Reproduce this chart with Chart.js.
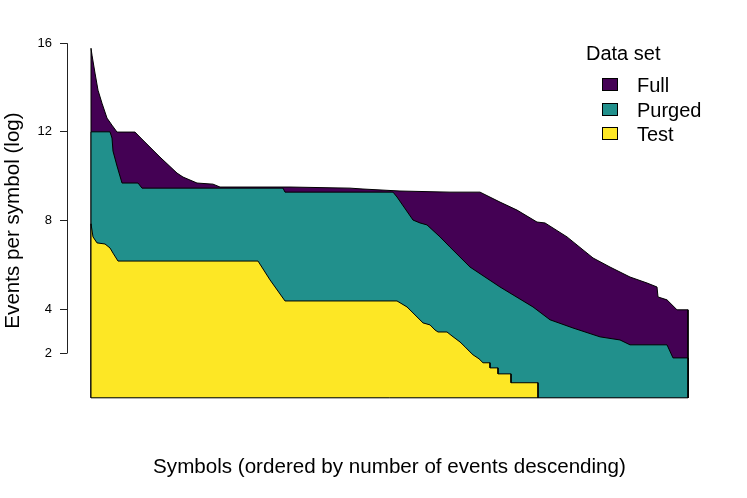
<!DOCTYPE html>
<html>
<head>
<meta charset="utf-8">
<script src="https://cdn.jsdelivr.net/npm/chart.js@4/dist/chart.umd.min.js"></script>
<style>
html,body{margin:0;padding:0;background:#fff;}
#wrap{width:747px;height:498px;}
</style>
</head>
<body>
<div id="wrap"><canvas id="c" width="747" height="498"></canvas></div>
<script>
// Symbol rank (x) and events per symbol (y)
const fullX = [0, 0, 1, 4, 7, 11, 16, 21, 26, 44, 49, 69, 86, 92, 106, 122, 129, 199, 259, 272, 309, 359, 389, 409, 426, 446, 454, 476, 502, 519, 539, 556, 566, 567, 576, 586, 597, 597];
const fullY = [0, 15.77, 15.46, 14.65, 13.88, 13.29, 12.62, 12.30, 11.99, 11.99, 11.76, 10.86, 10.14, 9.96, 9.69, 9.64, 9.51, 9.51, 9.46, 9.42, 9.33, 9.28, 9.28, 8.83, 8.47, 7.93, 7.89, 7.26, 6.31, 5.90, 5.45, 5.18, 5.00, 4.55, 4.42, 3.97, 3.97, 0];

const purgedX = [0, 0, 19, 21, 22, 26, 31, 47, 51, 192, 194, 302, 306, 322, 329, 336, 349, 359, 379, 409, 442, 459, 482, 509, 529, 539, 576, 582, 597, 597];
const purgedY = [0, 12.0, 12.0, 11.72, 11.13, 10.46, 9.69, 9.69, 9.46, 9.46, 9.28, 9.28, 9.06, 8.02, 7.89, 7.80, 7.26, 6.80, 5.90, 5.00, 4.10, 3.52, 3.15, 2.75, 2.61, 2.39, 2.39, 1.80, 1.80, 0];

const testX = [0, 0, 2, 6, 14, 19, 22, 27, 167, 179, 194, 306, 316, 332, 339, 344, 347, 356, 361, 369, 374, 379, 382, 388, 392, 399, 399, 407, 407, 420, 420, 447, 447];
const testY = [0, 7.85, 7.26, 6.99, 6.94, 6.76, 6.53, 6.17, 6.17, 5.32, 4.37, 4.37, 4.10, 3.38, 3.29, 3.06, 2.97, 2.97, 2.79, 2.52, 2.30, 2.07, 1.94, 1.76, 1.58, 1.58, 1.35, 1.35, 1.08, 1.08, 0.68, 0.68, 0];

const seriesNames = ['Full', 'Purged', 'Test'];
const seriesColors = ['#440154', '#21908C', '#FDE725'];
const yTicks = [2, 4, 8, 12, 16];
const xRange = [0, 597];

const FONT = '"Liberation Sans", Arial, Helvetica, sans-serif';
const pts = (xs, ys) => xs.map((x, i) => ({x: x, y: ys[i]}));

const extras = {
  id: 'extras',
  afterDatasetsDraw(chart) {
    const ctx = chart.ctx, xs = chart.scales.x, ys = chart.scales.y;
    ctx.save();
    ctx.strokeStyle = '#000';
    ctx.lineWidth = 1;
    // bottom edge of the filled polygons
    ctx.beginPath();
    ctx.moveTo(xs.getPixelForValue(xRange[0]), ys.getPixelForValue(0));
    ctx.lineTo(xs.getPixelForValue(xRange[1]), ys.getPixelForValue(0));
    ctx.stroke();
    // R style y axis line from first to last tick
    const ax = Math.round(chart.chartArea.left) + 0.5;
    ctx.strokeStyle = '#222';
    ctx.beginPath();
    ctx.moveTo(ax, ys.getPixelForValue(yTicks[0]));
    ctx.lineTo(ax, ys.getPixelForValue(yTicks[yTicks.length - 1]));
    ctx.stroke();
    ctx.restore();
  },
  afterDraw(chart) {
    const ctx = chart.ctx;
    ctx.save();
    ctx.font = '20px ' + FONT;
    ctx.fillStyle = '#000';
    ctx.textAlign = 'left';
    ctx.textBaseline = 'alphabetic';
    ctx.fillText('Data set', 586, 60);
    const baselines = [92, 117, 141];
    seriesNames.forEach((n, i) => {
      const b = baselines[i];
      ctx.fillStyle = seriesColors[i];
      ctx.fillRect(602, b - 14, 16, 13);
      ctx.strokeStyle = '#000';
      ctx.lineWidth = 1;
      ctx.strokeRect(602.5, b - 13.5, 15, 12);
      ctx.fillStyle = '#000';
      ctx.fillText(n, 637, b);
    });
    ctx.restore();
  }
};

const xs = [fullX, purgedX, testX], ysD = [fullY, purgedY, testY];
const datasets = seriesNames.map((n, i) => ({
  label: n,
  data: pts(xs[i], ysD[i]),
  backgroundColor: seriesColors[i],
  borderColor: '#000',
  borderWidth: 1,
  fill: 'origin',
  pointRadius: 0,
  tension: 0,
  order: 3 - i
}));

new Chart(document.getElementById('c'), {
  type: 'line',
  data: {datasets: datasets},
  options: {
    responsive: false,
    animation: false,
    events: [],
    layout: {autoPadding: false, padding: {left: 0, right: 35, top: 29, bottom: 0}},
    plugins: {legend: {display: false}, tooltip: {enabled: false}},
    scales: {
      x: {
        type: 'linear',
        min: -24, max: 621,
        ticks: {display: false},
        grid: {display: false},
        border: {display: false},
        title: {display: true, text: 'Symbols (ordered by number of events descending)', color: '#000',
                font: {family: FONT, size: 20.6}, padding: {top: 0, bottom: 18}},
        afterFit: s => { s.height = 86; }
      },
      y: {
        type: 'linear',
        min: -0.64, max: 16.64,
        afterBuildTicks: s => { s.ticks = yTicks.map(v => ({value: v})); },
        ticks: {color: '#000', padding: 8, font: {family: FONT, size: 13}, callback: v => String(v)},
        grid: {drawOnChartArea: false, drawTicks: true, tickLength: 7, color: '#222', lineWidth: 1},
        border: {display: false},
        title: {display: true, text: 'Events per symbol (log)', color: '#000',
                font: {family: FONT, size: 20.6}, padding: {top: 1, bottom: 0}},
        afterFit: s => { s.width = 67; }
      }
    }
  },
  plugins: [extras]
});
</script>
</body>
</html>
